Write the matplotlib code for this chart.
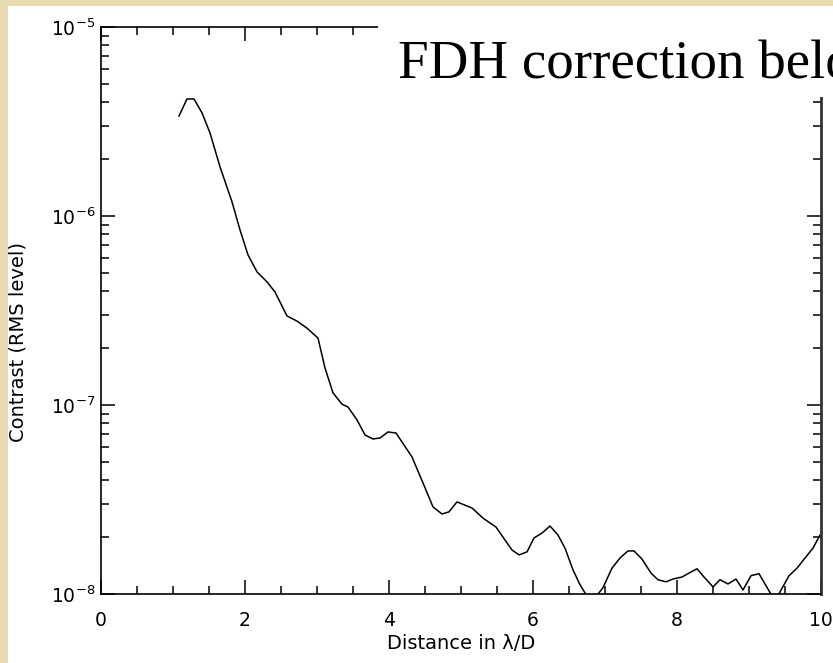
import matplotlib
matplotlib.use("Agg")
import matplotlib.pyplot as plt
from matplotlib.patches import Rectangle
from matplotlib.ticker import MultipleLocator, LogLocator

# radial contrast profile (RMS level) vs separation in lambda/D
distance = [1.083, 1.194, 1.292, 1.403, 1.514, 1.653, 1.819, 1.931, 2.042, 2.167,
            2.306, 2.417, 2.583, 2.722, 2.861, 3.014, 3.111, 3.222, 3.347, 3.431,
            3.556, 3.667, 3.778, 3.875, 3.986, 4.097, 4.319, 4.472, 4.611, 4.736,
            4.833, 4.944, 5.153, 5.306, 5.486, 5.708, 5.806, 5.917, 6.014, 6.125,
            6.236, 6.347, 6.444, 6.556, 6.653, 6.806, 6.972, 7.097, 7.208, 7.319,
            7.403, 7.514, 7.639, 7.736, 7.847, 7.944, 8.069, 8.167, 8.278, 8.375,
            8.500, 8.597, 8.708, 8.819, 8.917, 9.028, 9.139, 9.361, 9.556, 9.667,
            9.778, 9.889, 9.986]
contrast = [3.38e-6, 4.16e-6, 4.16e-6, 3.51e-6, 2.75e-6, 1.82e-6, 1.19e-6, 8.43e-7, 6.22e-7, 5.06e-7,
            4.48e-7, 3.96e-7, 2.96e-7, 2.78e-7, 2.55e-7, 2.26e-7, 1.57e-7, 1.16e-7, 1.01e-7, 9.76e-8,
            8.33e-8, 6.94e-8, 6.61e-8, 6.69e-8, 7.20e-8, 7.11e-8, 5.31e-8, 3.87e-8, 2.89e-8, 2.65e-8,
            2.72e-8, 3.07e-8, 2.85e-8, 2.52e-8, 2.26e-8, 1.71e-8, 1.61e-8, 1.67e-8, 1.98e-8, 2.10e-8,
            2.29e-8, 2.05e-8, 1.75e-8, 1.34e-8, 1.12e-8, 8.96e-9, 1.08e-8, 1.37e-8, 1.55e-8, 1.69e-8,
            1.69e-8, 1.53e-8, 1.29e-8, 1.19e-8, 1.16e-8, 1.20e-8, 1.23e-8, 1.29e-8, 1.36e-8, 1.23e-8,
            1.09e-8, 1.19e-8, 1.13e-8, 1.20e-8, 1.05e-8, 1.25e-8, 1.28e-8, 9.18e-9, 1.25e-8, 1.37e-8,
            1.55e-8, 1.75e-8, 2.05e-8]

title_text = "FDH correction below"

W, H = 833, 663
fig = plt.figure(figsize=(W / 100, H / 100), dpi=100)
fig.patch.set_facecolor("#e9dbb2")

# white slide area
fig.add_artist(Rectangle((8 / W, 0), 1 - 8 / W, 1 - 6 / H, transform=fig.transFigure,
                         facecolor="white", edgecolor="none", zorder=-5))

ax = fig.add_axes([101 / W, 69 / H, 720 / W, 567 / H])
ax.plot(distance, contrast, color="black", lw=1.1, clip_on=True)
ax.set_yscale("log")
ax.set_xlim(0, 10)
ax.set_ylim(1e-8, 1e-5)

ax.xaxis.set_major_locator(MultipleLocator(2))
ax.xaxis.set_minor_locator(MultipleLocator(0.5))
ax.yaxis.set_major_locator(LogLocator(base=10, numticks=10))
ax.yaxis.set_minor_locator(LogLocator(base=10, subs=range(2, 10), numticks=20))

ax.tick_params(which="both", direction="in", top=True, right=True, width=1.1, colors="black")
ax.tick_params(which="major", length=10, labelsize=13.5)
ax.tick_params(which="minor", length=5.5)
ax.tick_params(axis="x", which="major", pad=12)
ax.tick_params(axis="y", which="major", pad=4)

for side in ["left", "bottom", "top"]:
    ax.spines[side].set_linewidth(1.2)
ax.spines["right"].set_linewidth(2.0)
ax.spines["right"].set_color("#333333")

ax.set_xlabel("Distance in λ/D", fontsize=14)
ax.set_ylabel("Contrast (RMS level)", fontsize=14)
ax.xaxis.set_label_coords(0.5, -0.088)
ax.xaxis.label.set_va("center")
ax.yaxis.set_label_coords(-0.115, 0.444)
ax.yaxis.label.set_va("center")

# heading box sits over the top-right corner of the plot
fig.add_artist(Rectangle((378 / W, 1 - 97 / H), 1 - 378 / W, 97 / H - 6 / H,
                         transform=fig.transFigure, facecolor="white",
                         edgecolor="none", zorder=2))
fig.text(398 / W, 1 - 78 / H, title_text, fontsize=39.5, family="Liberation Serif",
         ha="left", va="baseline", color="black", zorder=3)

fig.savefig("out.png", dpi=100, facecolor=fig.get_facecolor())
